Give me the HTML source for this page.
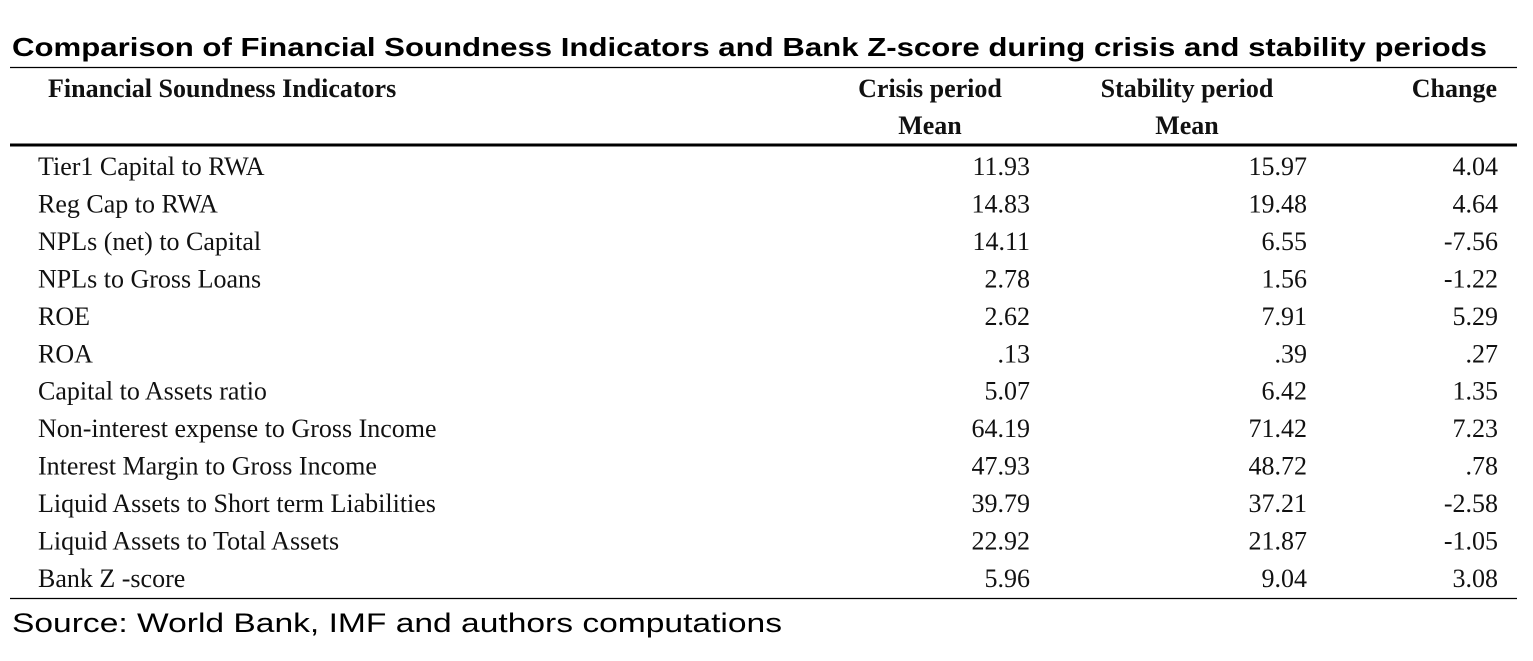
<!DOCTYPE html>
<html><head><meta charset="utf-8"><style>
body{margin:0;background:#fff;}
svg{display:block;}
.s{font-family:"Liberation Serif",serif;font-size:26px;fill:#111;}
.b{font-weight:bold;}
</style></head><body>
<svg id="t" width="1533" height="661" viewBox="0 0 1533 661">
<text x="12" y="56" font-family="Liberation Sans, sans-serif" font-weight="bold" font-size="26" textLength="1475" lengthAdjust="spacingAndGlyphs" fill="#000">Comparison of Financial Soundness Indicators and Bank Z-score during crisis and stability periods</text>
<line x1="10" y1="67.5" x2="1517" y2="67.5" stroke="#000" stroke-width="1.3"/>
<line x1="10" y1="145" x2="1517" y2="145" stroke="#000" stroke-width="3"/>
<line x1="10" y1="598.5" x2="1517" y2="598.5" stroke="#000" stroke-width="1.3"/>
<text class="s b" x="48" y="97">Financial Soundness Indicators</text>
<text class="s b" x="930" y="97" text-anchor="middle">Crisis period</text>
<text class="s b" x="930" y="134" text-anchor="middle">Mean</text>
<text class="s b" x="1187" y="97" text-anchor="middle">Stability period</text>
<text class="s b" x="1187" y="134" text-anchor="middle">Mean</text>
<text class="s b" x="1497" y="97" text-anchor="end">Change</text>
<g id="rows"></g>
<text x="12" y="632" font-family="Liberation Sans, sans-serif" font-size="27" textLength="770" lengthAdjust="spacingAndGlyphs" fill="#000">Source: World Bank, IMF and authors computations</text>
</svg>
<script>
const indicators=["Tier1 Capital to RWA","Reg Cap to RWA","NPLs (net) to Capital","NPLs to Gross Loans","ROE","ROA","Capital to Assets ratio","Non-interest expense to Gross Income","Interest Margin to Gross Income","Liquid Assets to Short term Liabilities","Liquid Assets to Total Assets","Bank Z -score"];
const crisis=["11.93","14.83","14.11","2.78","2.62",".13","5.07","64.19","47.93","39.79","22.92","5.96"];
const stability=["15.97","19.48","6.55","1.56","7.91",".39","6.42","71.42","48.72","37.21","21.87","9.04"];
const change=["4.04","4.64","-7.56","-1.22","5.29",".27","1.35","7.23",".78","-2.58","-1.05","3.08"];
const NS="http://www.w3.org/2000/svg";
const g=document.getElementById('rows');
function rowY(i){return 175+i*37.45;}
function txt(x,y,s,anchor,name){
  const t=document.createElementNS(NS,'text');
  t.setAttribute('class','s');t.setAttribute('x',x);t.setAttribute('y',y);
  if(anchor)t.setAttribute('text-anchor',anchor);
  t.textContent=s;
  
  
  g.appendChild(t);
}
indicators.forEach((lab,i)=>{
  const y=rowY(i);
  txt(38,y,lab,null,'row-label');
  txt(1030,y,crisis[i],'end','crisis-value');
  txt(1307,y,stability[i],'end','stability-value');
  txt(1498,y,change[i],'end','change-value');
});
</script>
</body></html>
